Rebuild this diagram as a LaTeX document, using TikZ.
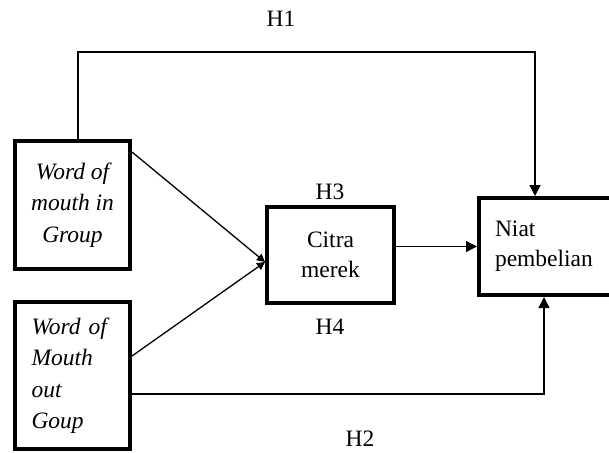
\documentclass[tikz,border=0pt]{standalone}
\usepackage{fontspec}
\setmainfont{Liberation Serif}
\usepackage{tikz}
\usetikzlibrary{arrows.meta,positioning}

\tikzset{
  varbox/.style={draw, line width=4pt, inner sep=0pt, font=\fontsize{23.5}{30}\selectfont},
  conn/.style={line width=1.3pt, -{Triangle[length=11pt,width=11pt]}},
  meet/.style={line width=1.3pt, -{Triangle[length=8pt,width=8pt]}},
  hyp/.style={inner sep=0pt, font=\fontsize{23.5}{28}\selectfont}
}

\begin{document}
\begin{tikzpicture}[x=1pt, y=-1pt]

\useasboundingbox (0,0) rectangle (609,452);
\clip (0,0) rectangle (609,452);

\node[varbox, minimum width=115pt, minimum height=128pt, align=center,
      font=\fontsize{23.5}{31.5}\selectfont\itshape] (womin) at (72.5,205)
  {Word of\\mouth in\\Group};
\node[varbox, minimum width=115pt, minimum height=147pt, text width=82pt, align=left,
      font=\fontsize{23.5}{31.5}\selectfont\itshape] (womout) at (72.5,375.5)
  {Word of\\Mouth\\out\\Goup};
\node[varbox, minimum width=127pt, minimum height=96pt, align=center] (citra) at (330.5,255)
  {Citra\\merek};
\node[varbox, anchor=west, minimum height=97pt, text width=110pt, inner xsep=16pt,
      align=left] (niat) at (477,246.5)
  {Niat\\pembelian};

\coordinate (meetpt) at (265,262);
\coordinate (h1left) at (78,52);
\coordinate (h1right) at (535,52);
\coordinate (h2right) at (544,394);

\draw[meet] ([yshift=-13pt]womin.north east) -- (meetpt);
\draw[meet] ([yshift=-56pt]womout.north east) -- (meetpt);
\draw[conn] (citra.east |- niat.west) -- (niat.west);

% H1 and H2 routes
\draw[conn] (womin.north -| h1left) -- (h1left) -- (h1right) -- (h1right |- niat.north);
\draw[conn] (womout.east |- h2right) -- (h2right) -- (h2right |- niat.south);

\node[hyp] (lblh1) at (281,19) {H1};
\node[hyp] (lblh3) at (330,192) {H3};
\node[hyp] (lblh4) at (330,327) {H4};
\node[hyp] (lblh2) at (360,439) {H2};

\end{tikzpicture}
\end{document}
